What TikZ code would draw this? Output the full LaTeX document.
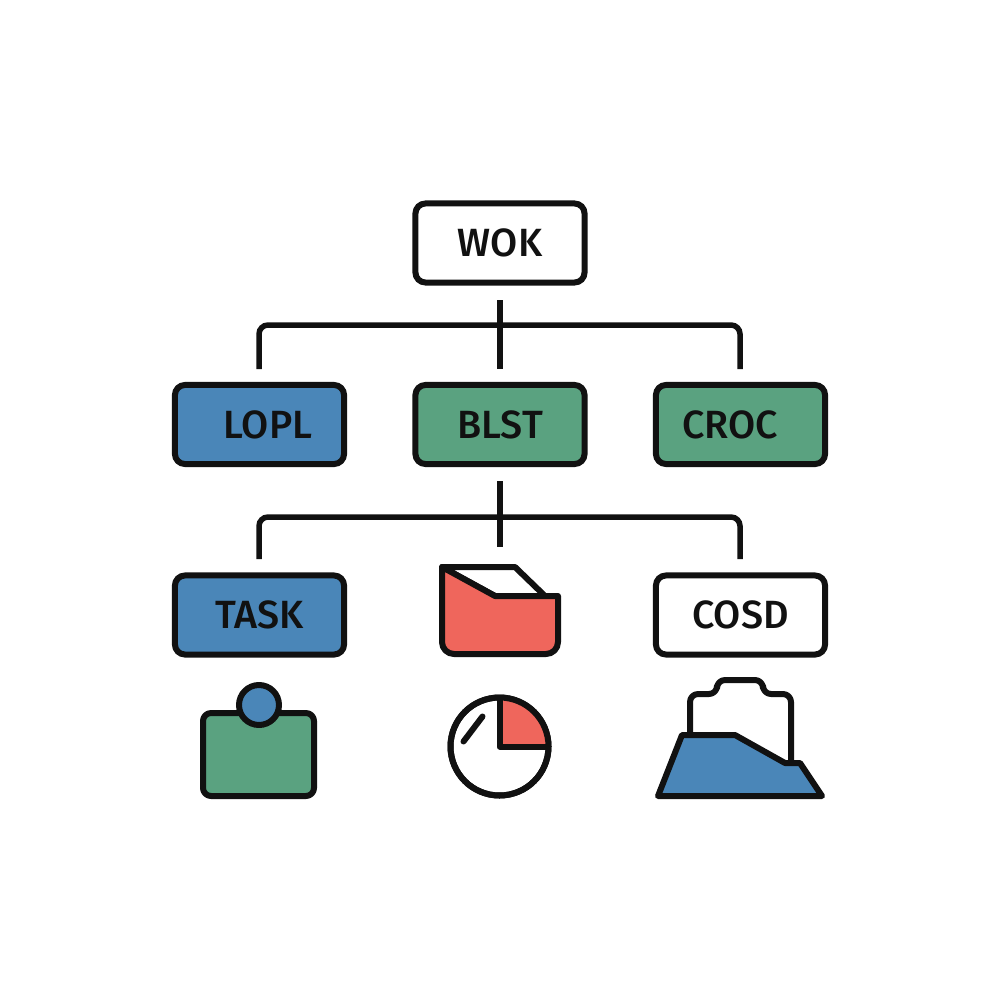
\documentclass[tikz,border=0pt]{standalone}
\usepackage{fontspec}
\setmainfont{Fira Sans}[BoldFont={Fira Sans Medium}]
\definecolor{inkblack}{HTML}{111111}
\definecolor{boxblue}{HTML}{4A86B8}
\definecolor{boxgreen}{HTML}{5AA280}
\definecolor{boxred}{HTML}{EF665C}
\tikzset{
	box/.style={draw=inkblack,line width=0.06cm,rounded corners=0.1cm,minimum width=1.69cm,minimum height=0.79cm,inner sep=0pt,text=inkblack,font=\fontsize{11.2}{12}\selectfont\bfseries},
	icon/.style={draw=inkblack,line width=0.06cm,line join=round},
	link/.style={draw=inkblack,line width=0.055cm,rounded corners=0.09cm}
}
\begin{document}
\begin{tikzpicture}[x=0.01cm,y=-0.01cm]
	\useasboundingbox (0,0) rectangle (1000,1000);
	\node[box,fill=white] at (500,243) (wok) {WOK};
	\node[box,fill=boxblue] at (259.5,424.5) (lopl) {\hspace*{0.17cm}LOPL};
	\node[box,fill=boxgreen] at (500,424.5) (blst) {BLST};
	\node[box,fill=boxgreen] at (740.5,424.5) (croc) {CROC\hspace*{0.21cm}};
	\node[box,fill=boxblue] at (259.5,615) (task) {TASK};
	\node[box,fill=white] at (740.5,615) (cosd) {COSD};
	\coordinate (wokdown) at (500,300);
	\coordinate (wokleft) at (259,369);
	\coordinate (wokmid) at (500,369);
	\coordinate (wokright) at (740,369);
	\coordinate (blstdown) at (500,481);
	\coordinate (blstleft) at (259,559);
	\coordinate (blstmid) at (500,547);
	\coordinate (blstright) at (740,559);
	\draw[link] (wokdown) -- (wokmid);
	\draw[link] (wokleft) |- (500,325) -| (wokright);
	\draw[link] (blstdown) -- (blstmid);
	\draw[link] (blstleft) |- (500,517) -| (blstright);
	% folder
	\draw[icon,fill=white] (442,567) -- (515,567) -- (545,596) -- (495,596) -- cycle;
	\draw[icon,fill=boxred] (442,567) -- (495,596) -- (558,596) -- (558,642) arc (0:90:12) -- (454,654) arc (90:180:12) -- cycle;
	% clock
	\draw[icon,fill=white] (499.5,746.5) circle (49);
	\fill[boxred] (499.5,746.5) -- (499.5,697.5) arc (-90:0:49) -- cycle;
	\draw[icon] (499.5,697.5) -- (499.5,746.5) -- (548.5,746.5);
	\draw[icon] (499.5,746.5) circle (49);
	\draw[icon,line cap=round] (463.5,741.5) -- (482.5,716.5);
	% badge
	\draw[icon,fill=boxgreen,rounded corners=0.08cm] (203,713) rectangle (314,796);
	\draw[icon,fill=boxblue] (259,705) circle (20);
	% clipboard
	\draw[icon,fill=white,rounded corners=0.08cm] (690,740) -- (690,694) -- (717,694) -- (717,680) -- (763,680) -- (763,694) -- (791,694) -- (791,768);
	\draw[icon,fill=boxblue] (658,796) -- (682,735) -- (735,735) -- (785,763) -- (800,763) -- (822,796) -- cycle;
\end{tikzpicture}
\end{document}
